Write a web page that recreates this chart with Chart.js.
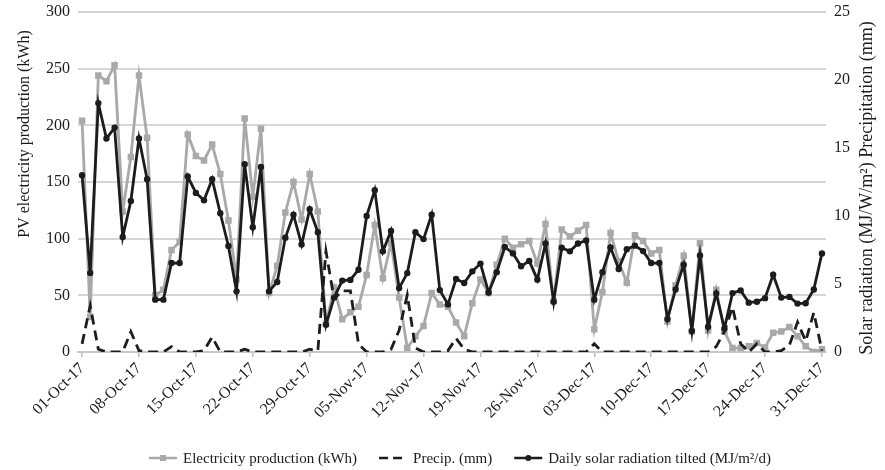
<!DOCTYPE html>
<html>
<head>
<meta charset="utf-8">
<script src="https://cdn.jsdelivr.net/npm/chart.js@4.4.0/dist/chart.umd.min.js"></script>
<style>
  html, body { margin: 0; padding: 0; background: #ffffff; }
  #wrap { width: 885px; height: 470px; }
</style>
</head>
<body>
<div id="wrap"><canvas id="chart" width="885" height="470"></canvas></div>
<script>
// Daily records, 1 Oct 2017 – 31 Dec 2017
const monthNames = ['Oct', 'Nov', 'Dec'];
const monthLengths = [31, 30, 31];
const days = [];
monthNames.forEach((m, k) => {
  for (let d = 1; d <= monthLengths[k]; d++) {
    days.push(String(d).padStart(2, '0') + '-' + m + '-17');
  }
});

const tickLabels = ['01-Oct-17', '08-Oct-17', '15-Oct-17', '22-Oct-17', '29-Oct-17',
  '05-Nov-17', '12-Nov-17', '19-Nov-17', '26-Nov-17', '03-Dec-17',
  '10-Dec-17', '17-Dec-17', '24-Dec-17', '31-Dec-17'];

// PV electricity production (kWh)
const electricity = [
  204, 31, 244, 239, 253, 124, 172, 244, 189, 50,
  55, 90, 97, 192, 173, 169, 183, 157, 116, 64,
  206, 137, 197, 52, 76, 123, 150, 117, 157, 124,
  25, 57, 29, 35, 40, 68, 112, 65, 96, 48,
  3.5, 14, 23, 52, 42, 40, 26, 14, 43, 64,
  52, 77, 100, 92, 95, 98, 78, 113, 45, 108,
  102, 107, 112, 20, 53, 105, 80, 61, 103, 98,
  87, 90, 27, 59, 85, 18, 96, 19, 55, 18,
  3.5, 3.5, 5, 8, 4, 17, 18, 22, 14, 5,
  0, 2.5
];

// Precipitation (mm)
const precipitation = [
  0.6, 3.4, 0.2, 0, 0, 0, 1.5, 0.1, 0, 0,
  0, 0.4, 0, 0, 0, 0.1, 1.1, 0, 0, 0,
  0.2, 0, 0, 0, 0, 0, 0, 0, 0.2, 0.1,
  7.4, 3.9, 4.5, 4.5, 0.6, 0, 0, 0, 0.2, 1.6,
  4.2, 0.3, 0, 0, 0, 0.1, 1.0, 0.2, 0, 0,
  0, 0, 0, 0, 0, 0, 0, 0, 0, 0,
  0, 0, 0, 0.6, 0, 0, 0, 0, 0, 0,
  0, 0, 0, 0, 0, 0, 0, 0, 0.4, 1.5,
  3.3, 0.6, 0, 0.6, 0, 0, 0.1, 0.5, 2.2, 0.8,
  2.9, 0.1
];

// Daily solar radiation on the tilted plane (MJ/m2/d)
const solar = [
  13.0, 5.8, 18.3, 15.7, 16.5, 8.46, 11.1, 15.7, 12.7, 3.85,
  3.85, 6.54, 6.54, 12.9, 11.7, 11.15, 12.7, 10.2, 7.8, 4.46,
  13.8, 9.17, 13.6, 4.46, 5.15, 8.4, 10.1, 7.9, 10.5, 8.8,
  2.0, 4.0, 5.25, 5.3, 6.05, 10.0, 11.9, 7.4, 8.9, 4.7,
  5.8, 8.8, 8.3, 10.1, 4.55, 3.5, 5.37, 5.07, 5.93, 6.5,
  4.38, 5.87, 7.72, 7.25, 6.3, 6.7, 5.32, 7.98, 3.7, 7.67,
  7.4, 7.98, 8.2, 3.85, 5.87, 7.68, 6.1, 7.56, 7.82, 7.42,
  6.54, 6.54, 2.43, 4.6, 6.42, 1.55, 7.1, 1.86, 4.3, 1.72,
  4.33, 4.53, 3.63, 3.7, 3.96, 5.68, 4.0, 4.05, 3.56, 3.59,
  4.6, 7.25
];

const seriesNames = ['Electricity production (kWh)', 'Precip. (mm)', 'Daily solar radiation tilted (MJ/m\u00B2/d)'];
const leftTitle = 'PV electricity production (kWh)';
const rightTitle = 'Solar radiation (MJ/W/m\u00B2) Precipitation (mm)';

const GRAY = '#a9a9a9';
const DARK = '#1c1c1c';
const SERIF = '"Liberation Serif", "Times New Roman", serif';

// Axis titles and legend, drawn on top of the chart
const decorations = {
  id: 'decorations',
  afterDraw(chart) {
    const ctx = chart.ctx;
    ctx.save();
    ctx.fillStyle = DARK;
    ctx.textAlign = 'center';
    ctx.textBaseline = 'middle';

    ctx.font = '16px ' + SERIF;
    ctx.save();
    ctx.translate(25, 134);
    ctx.rotate(-Math.PI / 2);
    ctx.fillText(leftTitle, 0, 0);
    ctx.restore();

    ctx.font = '18px ' + SERIF;
    ctx.save();
    ctx.translate(867, 188);
    ctx.rotate(-Math.PI / 2);
    ctx.fillText(rightTitle, 0, 0);
    ctx.restore();

    // legend
    ctx.font = '15px ' + SERIF;
    ctx.textAlign = 'left';
    const markW = 28, gapText = 6, gapItem = 22;
    const widths = seriesNames.map(t => ctx.measureText(t).width);
    const total = widths.reduce((a, w) => a + markW + gapText + w, 0) + gapItem * 2;
    let x = 460 - total / 2;
    const y = 458;
    seriesNames.forEach((name, k) => {
      ctx.save();
      ctx.lineWidth = 2.5;
      if (k === 0) {
        ctx.strokeStyle = GRAY; ctx.fillStyle = GRAY;
        ctx.beginPath(); ctx.moveTo(x, y); ctx.lineTo(x + markW, y); ctx.stroke();
        ctx.fillRect(x + markW / 2 - 3, y - 3, 6, 6);
      } else if (k === 1) {
        ctx.strokeStyle = DARK;
        ctx.setLineDash([9, 5]);
        ctx.beginPath(); ctx.moveTo(x, y); ctx.lineTo(x + markW, y); ctx.stroke();
      } else {
        ctx.strokeStyle = DARK; ctx.fillStyle = DARK;
        ctx.beginPath(); ctx.moveTo(x, y); ctx.lineTo(x + markW, y); ctx.stroke();
        ctx.beginPath(); ctx.arc(x + markW / 2, y, 3, 0, Math.PI * 2); ctx.fill();
      }
      ctx.restore();
      ctx.fillStyle = DARK;
      ctx.fillText(name, x + markW + gapText, y + 1);
      x += markW + gapText + widths[k] + gapItem;
    });
    ctx.restore();
  }
};

// fixed axis widths and edge padding so the plot area sits at a set place
const fixVertical = width => s => {
  s.width = width;
  s.paddingTop = 0;
  s.paddingBottom = 0;
};

new Chart(document.getElementById('chart'), {
  type: 'line',
  data: {
    labels: days,
    datasets: [
      {
        label: seriesNames[0],
        data: electricity,
        yAxisID: 'y',
        borderColor: GRAY,
        backgroundColor: GRAY,
        borderWidth: 2.8,
        pointStyle: 'rect',
        pointRadius: 4.6,
        pointBorderWidth: 0,
        tension: 0,
        order: 3
      },
      {
        label: seriesNames[1],
        data: precipitation,
        yAxisID: 'y1',
        borderColor: DARK,
        backgroundColor: DARK,
        borderWidth: 2.8,
        borderDash: [10, 6],
        pointRadius: 0,
        tension: 0,
        order: 2
      },
      {
        label: seriesNames[2],
        data: solar,
        yAxisID: 'y1',
        borderColor: DARK,
        backgroundColor: DARK,
        borderWidth: 2.8,
        pointStyle: 'circle',
        pointRadius: 3.2,
        pointBorderWidth: 0,
        tension: 0,
        order: 1
      }
    ]
  },
  options: {
    responsive: false,
    animation: false,
    devicePixelRatio: 1,
    layout: { padding: { top: 12, left: 0, right: 0, bottom: 0 } },
    plugins: {
      legend: { display: false },
      tooltip: { enabled: false }
    },
    scales: {
      x: {
        type: 'category',
        offset: true,
        grid: {
          drawOnChartArea: false,
          offset: false,
          tickLength: 5,
          lineWidth: 1.5,
          color: c => (tickLabels.includes(days[c.index]) ? '#bdbdbd' : 'rgba(0,0,0,0)')
        },
        border: { display: true, color: '#c9c9c9', width: 2 },
        ticks: {
          autoSkip: false,
          maxRotation: 45,
          minRotation: 45,
          padding: 2,
          color: DARK,
          font: { family: SERIF, size: 16 },
          callback: (v, i) => (tickLabels.includes(days[i]) ? days[i] : '')
        },
        afterFit: s => { s.height = 118; }
      },
      y: {
        position: 'left',
        min: 0,
        max: 300,
        ticks: { stepSize: 50, padding: 8, color: DARK, font: { family: SERIF, size: 16 } },
        grid: { color: '#d6d6d6', lineWidth: 2, drawTicks: false },
        border: { display: false },
        afterFit: fixVertical(78)
      },
      y1: {
        position: 'right',
        min: 0,
        max: 25,
        ticks: { stepSize: 5, padding: 8, color: DARK, font: { family: SERIF, size: 16 } },
        grid: { drawOnChartArea: false, drawTicks: false },
        border: { display: false },
        afterFit: fixVertical(59)
      }
    }
  },
  plugins: [decorations]
});
</script>
</body>
</html>
